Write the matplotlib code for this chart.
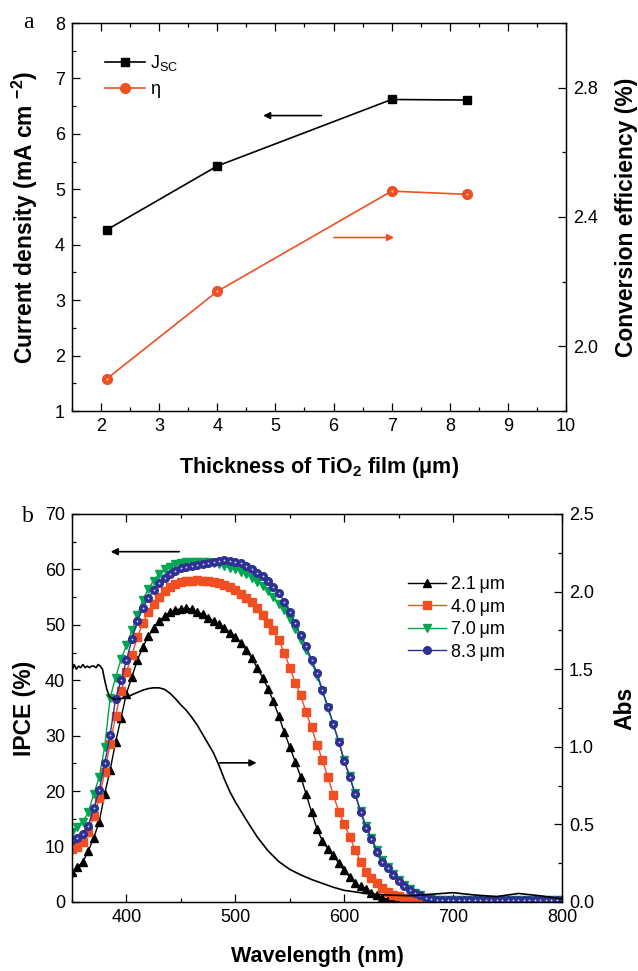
import matplotlib
matplotlib.use('Agg')
import matplotlib.pyplot as plt
from matplotlib.ticker import MultipleLocator, FormatStrFormatter

plt.rcParams['font.family'] = ['Liberation Sans', 'DejaVu Sans']
plt.rcParams['mathtext.fontset'] = 'custom'
plt.rcParams['mathtext.rm'] = 'Liberation Sans'
plt.rcParams['mathtext.it'] = 'Liberation Sans:italic'
plt.rcParams['mathtext.bf'] = 'Liberation Sans:bold'

RED = '#f04e23'
GREEN = '#00a651'
BLUE = '#2e3192'

# ---- panel a data ----
thickness = [2.1, 4.0, 7.0, 8.3]
jsc = [4.27, 5.42, 6.62, 6.61]
eta = [1.90, 2.17, 2.48, 2.47]

# ---- panel b data ----
wavelength = list(range(350, 805, 5))
ipce_21 = [5.5, 6.3, 7.3, 9.2, 11.6, 14.5, 19.5, 23.8, 28.8, 33.2,
           37.6, 40.6, 43.6, 46.0, 47.9, 49.5, 50.7, 51.6, 52.3, 52.7,
           52.9, 53.0, 52.8, 52.4, 51.9, 51.3, 50.7, 50.1, 49.4, 48.6,
           47.8, 46.8, 45.5, 44.0, 42.3, 40.5, 38.5, 36.2, 33.5, 30.6,
           28.0, 25.3, 22.6, 19.5, 16.2, 13.2, 11.0, 9.6, 8.4, 7.0,
           5.7, 4.5, 3.5, 2.8, 2.3, 1.7, 1.2, 0.8, 0.5, 0.2,
           0.1] + [0.1] * 30
ipce_40 = [9.5, 10.0, 10.8, 12.7, 15.5, 18.7, 23.5, 28.5, 33.5, 38.0,
           41.5, 44.5, 47.8, 50.3, 52.3, 53.8, 55.1, 56.1, 56.8, 57.3,
           57.7, 57.9, 58.0, 58.1, 58.0, 57.9, 57.8, 57.6, 57.2, 56.8,
           56.2, 55.5, 54.8, 54.1, 53.1, 51.8, 50.4, 49.0, 47.2, 45.0,
           42.3, 39.6, 37.3, 34.2, 31.5, 28.4, 25.6, 22.5, 19.3, 16.3,
           14.0, 11.8, 9.4, 7.3, 5.5, 4.3, 3.4, 2.5, 1.8, 1.3,
           1.0, 0.7, 0.5, 0.35, 0.25] + [0.2] * 26
ipce_70 = [12.7, 13.5, 14.5, 16.2, 19.5, 22.5, 28.0, 36.8, 40.5, 43.8,
           46.3, 49.0, 51.8, 54.5, 56.5, 58.0, 59.2, 60.0, 60.5, 60.9,
           61.1, 61.3, 61.4, 61.4, 61.4, 61.3, 61.1, 61.0, 60.7, 60.3,
           60.0, 59.6, 59.1, 58.5, 57.8, 57.0, 56.1, 55.0, 53.8, 52.6,
           51.0, 49.3, 47.3, 45.5, 43.3, 40.8, 38.0, 35.0, 32.0, 28.9,
           25.6, 22.7, 19.6, 16.5, 13.8, 11.6, 9.4, 7.5, 6.3, 5.0,
           3.9, 3.0, 2.3, 1.7, 1.2, 0.8, 0.5] + [0.3] * 24
ipce_83 = [11.2, 11.6, 12.2, 13.8, 16.9, 20.2, 25.0, 30.2, 36.6, 40.0,
           43.6, 47.4, 50.7, 53.0, 54.8, 56.3, 57.6, 58.5, 59.2, 59.8,
           60.2, 60.5, 60.7, 60.8, 60.9, 61.1, 61.3, 61.5, 61.7, 61.6,
           61.4, 61.1, 60.7, 60.1, 59.4, 58.8, 58.0, 56.9, 55.8, 54.2,
           52.4, 50.3, 48.1, 46.2, 43.7, 41.3, 38.2, 35.2, 32.1, 28.9,
           25.4, 22.6, 19.4, 16.2, 13.4, 11.4, 9.1, 7.2, 6.1, 4.8,
           3.7, 2.9, 2.2, 1.6, 1.2, 0.8, 0.5] + [0.3] * 24

abs_wl = [350, 352, 354, 356, 358, 360, 362, 364, 366, 368, 370, 372, 374,
          376, 378, 380, 382, 384, 386, 390, 395, 400, 405, 410, 415, 420,
          425, 430, 435, 440, 445, 450, 455, 460, 465, 470, 475, 480, 485,
          490, 495, 500, 510, 520, 530, 540, 550, 560, 570, 580, 590, 600,
          620, 640, 660, 680, 700, 720, 740, 760, 780, 800]
abs_val = [1.49, 1.53, 1.50, 1.52, 1.51, 1.53, 1.51, 1.52, 1.51, 1.52, 1.52,
           1.51, 1.53, 1.52, 1.50, 1.43, 1.37, 1.33, 1.315, 1.305, 1.31,
           1.32, 1.335, 1.35, 1.365, 1.375, 1.38, 1.38, 1.37, 1.345, 1.31,
           1.27, 1.235, 1.19, 1.14, 1.08, 1.02, 0.96, 0.88, 0.79, 0.71,
           0.645, 0.53, 0.42, 0.33, 0.26, 0.21, 0.175, 0.145, 0.12, 0.095,
           0.075, 0.055, 0.045, 0.04, 0.05, 0.06, 0.045, 0.035, 0.055,
           0.04, 0.02]

legend_b = ['2.1\u2009\u03bcm', '4.0\u2009\u03bcm', '7.0\u2009\u03bcm', '8.3\u2009\u03bcm']

VLABEL = 16.5   # rotated axis titles
HLABEL = 15.5   # horizontal axis titles


def style_ticks(ax, right=False):
    ax.tick_params(which='both', direction='in', top=True, right=right,
                   labelsize=13, width=0.9, pad=5)
    ax.tick_params(which='major', length=6)
    ax.tick_params(which='minor', length=3)
    for s in ax.spines.values():
        s.set_linewidth(0.9)


fig = plt.figure(figsize=(6.38, 9.71), dpi=100)
W, H = 638., 971.

# ================= panel a =================
ax1 = fig.add_axes([72 / W, 1 - 411 / H, 494 / W, 388 / H])
ax1r = ax1.twinx()

l1, = ax1.plot(thickness, jsc, '-s', color='k', lw=1.2, ms=6)
l2, = ax1r.plot(thickness, eta, '-o', color=RED, lw=1.2, ms=7)
ax1r.plot(thickness, eta, 'o', color='#ffc8b8', ms=1.6, mew=0, zorder=5)

ax1.set_xlim(1.5, 10)
ax1.set_ylim(1, 8)
ax1r.set_ylim(1.8, 3.0)
ax1.xaxis.set_major_locator(MultipleLocator(1))
ax1.xaxis.set_minor_locator(MultipleLocator(0.5))
ax1.yaxis.set_major_locator(MultipleLocator(1))
ax1.yaxis.set_minor_locator(MultipleLocator(0.5))
ax1r.yaxis.set_major_locator(MultipleLocator(0.4))
ax1r.yaxis.set_minor_locator(MultipleLocator(0.2))
ax1r.yaxis.set_major_formatter(FormatStrFormatter('%.1f'))
style_ticks(ax1)
style_ticks(ax1r, right=True)

ax1.set_xlabel('Thickness of TiO$_\\mathbf{2}$ film (\u03bcm)', fontsize=HLABEL, fontweight='bold')
ax1.set_ylabel('Current density (mA cm $^{\\mathbf{-2}}$)', fontsize=VLABEL, fontweight='bold')
ax1r.set_ylabel('Conversion efficiency (%)', fontsize=VLABEL, fontweight='bold', rotation=90)
ax1.xaxis.set_label_coords(0.5, -0.113)
ax1.yaxis.set_label_coords(-0.065, 0.5)
ax1r.yaxis.set_label_coords(1.099, 0.5)

ax1.annotate('', xy=(4.74, 6.33), xytext=(5.84, 6.33),
             arrowprops=dict(arrowstyle='-|>', color='k', lw=1.2, mutation_scale=10))
ax1.annotate('', xy=(7.09, 4.13), xytext=(5.96, 4.13),
             arrowprops=dict(arrowstyle='-|>', color=RED, lw=1.2, mutation_scale=10))

ax1.legend([l1, l2], ['J$_\\mathrm{SC}$', '\u03b7'], loc='upper left',
           bbox_to_anchor=((105 - 72) / 494, 1 - (53 - 23) / 388),
           frameon=False, fontsize=13, handlelength=2.2, handletextpad=0.3,
           labelspacing=0.46, borderpad=0, borderaxespad=0)

fig.text(28 / W, 1 - 22 / H, 'a', family='Liberation Serif', fontsize=17,
         ha='center', va='center')

# ================= panel b =================
ax2 = fig.add_axes([72 / W, 1 - 902 / H, 490 / W, 388 / H])
ax2r = ax2.twinx()

h1, = ax2.plot(wavelength, ipce_21, '-^', color='k', lw=1.0, ms=6)
h2, = ax2.plot(wavelength, ipce_40, '-s', color=RED, lw=1.0, ms=5.5)
h3, = ax2.plot(wavelength, ipce_70, '-v', color=GREEN, lw=1.0, ms=6)
h4, = ax2.plot(wavelength, ipce_83, '-o', color=BLUE, lw=1.0, ms=5.5)
ax2.plot(wavelength, ipce_83, 'o', color='#d0d8ff', ms=1.3, mew=0)
ax2r.plot(abs_wl, abs_val, '-', color='k', lw=1.2)

ax2.set_xlim(350, 800)
ax2.set_ylim(0, 70)
ax2r.set_ylim(0, 2.5)
ax2.xaxis.set_major_locator(MultipleLocator(100))
ax2.xaxis.set_minor_locator(MultipleLocator(50))
ax2.yaxis.set_major_locator(MultipleLocator(10))
ax2.yaxis.set_minor_locator(MultipleLocator(5))
ax2r.yaxis.set_major_locator(MultipleLocator(0.5))
ax2r.yaxis.set_minor_locator(MultipleLocator(0.25))
ax2r.yaxis.set_major_formatter(FormatStrFormatter('%.1f'))
style_ticks(ax2)
style_ticks(ax2r, right=True)

ax2.set_xlabel('Wavelength (nm)', fontsize=HLABEL, fontweight='bold')
ax2.set_ylabel('IPCE (%)', fontsize=VLABEL, fontweight='bold')
ax2r.set_ylabel('Abs', fontsize=VLABEL, fontweight='bold', rotation=90)
ax2.xaxis.set_label_coords(0.5, -0.113)
ax2.yaxis.set_label_coords(-0.073, 0.5)
ax2r.yaxis.set_label_coords(1.104, 0.5)

ax2.annotate('', xy=(383, 63.2), xytext=(451, 63.2),
             arrowprops=dict(arrowstyle='-|>', color='k', lw=1.2, mutation_scale=10))
ax2.annotate('', xy=(522, 25.1), xytext=(483, 25.1),
             arrowprops=dict(arrowstyle='-|>', color='k', lw=1.2, mutation_scale=10))

ax2r.legend([h1, h2, h3, h4], legend_b, loc='upper left',
            bbox_to_anchor=((408 - 72) / 490, 1 - (576 - 514) / 388),
            frameon=False, fontsize=13, handlelength=2.1, handletextpad=0.3,
            labelspacing=0.31, borderpad=0, borderaxespad=0)

fig.text(28 / W, 1 - 516 / H, 'b', family='Liberation Serif', fontsize=17,
         ha='center', va='center')

fig.savefig('out.png', dpi=100)
